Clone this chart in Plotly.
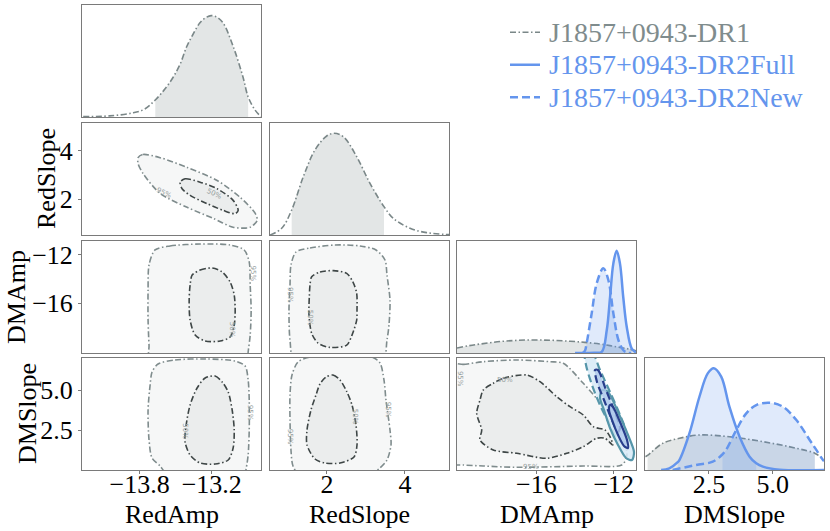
import plotly.graph_objects as go

# ---------------- data ----------------
params = ["RedAmp", "RedSlope", "DMAmp", "DMSlope"]
param_ranges = {"RedAmp": [-14.28, -12.79], "RedSlope": [0.54, 5.13],
                "DMAmp": [-20.1, -10.85], "DMSlope": [0.0, 7.0]}
tick_vals = {"RedAmp": [-13.8, -13.2], "RedSlope": [2, 4],
             "DMAmp": [-16, -12], "DMSlope": [2.5, 5.0]}
tick_text = {"RedAmp": ["\u221213.8", "\u221213.2"], "RedSlope": ["2", "4"],
             "DMAmp": ["\u221216", "\u221212"], "DMSlope": ["2.5", "5.0"]}

# 1-D marginal densities (height relative to panel)
redamp_dr1_x = [-14.27, -14.05, -13.86, -13.76, -13.67, -13.59, -13.52, -13.46, -13.41, -13.36,
                -13.30, -13.26, -13.205, -13.155, -13.105, -13.02, -12.94, -12.897, -12.84, -12.79]
redamp_dr1_h = [0.003, 0.01, 0.036, 0.07, 0.152, 0.25, 0.357, 0.48, 0.625, 0.73,
                0.839, 0.88, 0.905, 0.89, 0.839, 0.625, 0.357, 0.18, 0.063, 0.003]
redamp_dr1_ci = [-13.67, -12.897]

redslope_dr1_x = [0.54, 0.84, 1.096, 1.394, 1.694, 1.994, 2.181, 2.42, 2.763, 3.104, 3.463,
                  3.702, 4.13, 4.558, 5.13]
redslope_dr1_h = [0.0, 0.06, 0.223, 0.52, 0.759, 0.884, 0.908, 0.878, 0.699, 0.461, 0.253,
                  0.149, 0.06, 0.021, 0.003]
redslope_dr1_ci = [1.096, 3.463]

dmamp_dr1_x = [-20.1, -19.5, -18.91, -17.7, -16.5, -15.3, -14.26, -13.5, -12.71, -12.2, -11.68, -11.2, -10.85]
dmamp_dr1_h = [0.045, 0.065, 0.08, 0.105, 0.116, 0.114, 0.105, 0.095, 0.08, 0.066, 0.05, 0.035, 0.02]
dmamp_dr1_ci = [-20.1, -10.85]
dmamp_full_x = [-14.0, -13.0, -12.62, -12.36, -12.19, -12.02, -11.85, -11.68, -11.51, -11.33, -11.07, -10.85]
dmamp_full_h = [0.0, 0.002, 0.01, 0.205, 0.50, 0.80, 0.913, 0.80, 0.50, 0.235, 0.04, 0.005]
dmamp_full_ci = [-12.62, -11.07]
dmamp_new_x = [-13.60, -13.49, -13.40, -13.14, -12.88, -12.54, -12.28, -12.02, -11.76, -11.51, -11.33, -11.1]
dmamp_new_h = [0.0, 0.02, 0.087, 0.354, 0.622, 0.756, 0.652, 0.354, 0.116, 0.027, 0.005, 0.0]
dmamp_new_ci = [-13.49, -11.33]

dmslope_dr1_x = [0.02, 0.1, 0.69, 1.345, 2.13, 3.30, 4.61, 5.92, 6.64, 6.94, 7.0]
dmslope_dr1_h = [0.119, 0.13, 0.238, 0.283, 0.3125, 0.297, 0.253, 0.194, 0.15, 0.104, 0.10]
dmslope_dr1_ci = [0.1, 6.64]
dmslope_full_x = [0.63, 0.95, 1.28, 1.345, 1.737, 2.129, 2.454, 2.69, 2.98, 3.30, 3.70, 4.09, 4.35, 4.61, 5.26, 7.0]
dmslope_full_h = [0.0, 0.015, 0.07, 0.089, 0.327, 0.654, 0.863, 0.908, 0.833, 0.565, 0.297, 0.119, 0.06, 0.03, 0.003, 0.0]
dmslope_full_ci = [1.28, 4.35]
dmslope_new_x = [1.08, 2.0, 2.65, 3.03, 3.17, 3.57, 3.96, 4.35, 4.87, 5.39, 5.92, 6.44, 6.64, 6.96, 7.0]
dmslope_new_h = [0.0, 0.045, 0.074, 0.14, 0.179, 0.357, 0.506, 0.58, 0.601, 0.565, 0.446, 0.268, 0.2, 0.089, 0.08]
dmslope_new_ci = [3.03, 6.64]

# 2-D credible contours (polygons)
c_redslope_redamp_95_x = [-13.813, -13.772, -13.63, -13.405, -13.155, -12.963, -12.838, -12.822, -12.88,
                          -13.022, -13.188, -13.405, -13.63, -13.772, -13.813]
c_redslope_redamp_95_y = [3.71, 3.84, 3.71, 3.31, 2.775, 2.08, 1.428, 1.14, 0.857,
                          0.857, 1.224, 1.673, 2.244, 3.06, 3.469]
c_redslope_redamp_50_x = [-13.463, -13.422, -13.297, -13.155, -13.022, -12.98, -13.005, -13.105, -13.238, -13.38, -13.447]
c_redslope_redamp_50_y = [2.706, 2.844, 2.706, 2.436, 1.959, 1.55, 1.416, 1.55, 1.824, 2.163, 2.436]

c_dmamp_redamp_95_x = [-13.672, -13.547, -13.297, -13.047, -12.93, -12.888, -12.88, -12.872, -12.88, -12.897,
                       -12.905, -13.713, -13.722, -13.73, -13.73, -13.722]
c_dmamp_redamp_95_y = [-11.59, -11.26, -11.10, -11.18, -11.59, -12.59, -14.49, -16.55, -18.62, -20.02,
                       -20.85, -20.85, -19.45, -17.38, -14.90, -12.83]
c_dmamp_redamp_50_x = [-13.363, -13.297, -13.197, -13.113, -13.047, -13.013, -13.005, -13.013, -13.047, -13.13,
                       -13.255, -13.338, -13.38, -13.388, -13.38]
c_dmamp_redamp_50_y = [-13.66, -13.25, -13.08, -13.41, -14.24, -15.31, -16.72, -17.79, -18.78, -19.11,
                       -19.11, -18.62, -17.38, -15.73, -14.49]

c_dmamp_redslope_95_x = [1.207, 1.566, 2.207, 2.848, 3.258, 3.489, 3.54, 3.617, 3.591, 3.54, 3.412,
                         1.181, 1.053, 1.027, 1.053, 1.078]
c_dmamp_redslope_95_y = [-11.76, -11.43, -11.18, -11.26, -11.59, -12.42, -13.66, -15.73, -17.79, -19.03, -20.85,
                         -20.85, -19.03, -16.55, -14.49, -12.83]
c_dmamp_redslope_50_x = [1.609, 1.822, 2.163, 2.507, 2.668, 2.763, 2.771, 2.763, 2.643, 2.507, 2.079,
                         1.771, 1.609, 1.540, 1.548, 1.566]
c_dmamp_redslope_50_y = [-13.80, -13.41, -13.30, -13.52, -14.24, -15.17, -16.55, -17.38, -18.62, -19.45, -19.64,
                         -19.28, -18.48, -16.97, -15.45, -14.49]

c_dmslope_redamp_95_x = [-13.647, -13.505, -13.255, -13.005, -12.922, -12.897, -12.888, -12.888, -12.897, -12.913,
                         -12.93, -13.563, -13.63, -13.697, -13.722, -13.73, -13.713, -13.697]
c_dmslope_redamp_95_y = [6.625, 6.875, 6.94, 6.81, 6.5, 5.625, 4.375, 2.5, 0.9375, 0.125,
                         -0.3125, -0.3125, 0.25, 0.75, 1.875, 3.75, 5.3125, 6.125]
c_dmslope_redamp_50_x = [-13.255, -13.172, -13.113, -13.063, -13.03, -13.013, -13.022, -13.063, -13.172,
                         -13.297, -13.38, -13.422, -13.413, -13.38, -13.322]
c_dmslope_redamp_50_y = [5.75, 5.875, 5.5, 4.875, 3.75, 2.5, 1.375, 0.625, 0.375,
                         0.4375, 0.9375, 1.75, 2.8125, 4.0625, 5.125]

c_dmslope_redslope_95_x = [1.258, 1.566, 2.335, 3.155, 3.36, 3.463, 3.514, 3.617, 3.643, 3.54, 3.36, 3.104,
                           1.309, 1.13, 1.078, 1.053, 1.053, 1.104]
c_dmslope_redslope_95_y = [6.75, 7.06, 7.19, 7.06, 6.69, 5.625, 4.375, 2.5, 1.5625, 0.625, 0.125, -0.3125,
                           -0.3125, 0.25, 1.25, 3.125, 4.6875, 5.9375]
c_dmslope_redslope_50_x = [1.976, 2.155, 2.335, 2.514, 2.643, 2.745, 2.771, 2.694, 2.335, 1.95, 1.694,
                           1.489, 1.489, 1.591, 1.719, 1.822]
c_dmslope_redslope_50_y = [5.8125, 5.9375, 5.625, 4.875, 4.0625, 2.8125, 1.5625, 0.8125, 0.4375, 0.4375, 0.6875,
                           1.5625, 2.5, 3.75, 4.6875, 5.375]

c_dmslope_dmamp_dr1_95_x = [-20.3, -19.774, -18.741, -17.015, -15.294, -14.606, -13.573, -12.539, -11.847, -11.418,
                            -11.33, -11.588, -13.573, -17.015, -18.741, -19.774, -20.3]
c_dmslope_dmamp_dr1_95_y = [6.6, 6.6, 6.769, 6.875, 6.769, 6.669, 5.419, 3.956, 2.706, 1.669,
                            0.831, 0.3125, 0.25, 0.169, 0.25, 0.3125, 0.4]
c_dmslope_dmamp_dr1_50_x = [-18.224, -17.707, -16.498, -15.81, -14.948, -14.26, -13.573, -13.056, -12.451, -12.193,
                            -12.053, -12.451, -12.88, -13.573, -14.43, -15.464, -17.015, -18.224, -18.911, -18.824,
                            -19.082, -18.911, -18.741]
c_dmslope_dmamp_dr1_50_y = [5.419, 5.731, 5.9375, 5.519, 4.581, 3.956, 3.4375, 2.706, 2.5, 2.081,
                            1.5625, 1.981, 1.981, 1.456, 1.044, 0.731, 1.044, 1.25, 1.875, 2.5,
                            3.544, 4.375, 5.0]
c_dmslope_dmamp_new_95_x = [-13.485, -13.123, -12.71, -12.193, -11.676, -11.366, -11.469, -11.779, -12.193, -12.71, -13.123, -13.433]
c_dmslope_dmamp_new_95_y = [7.375, 7.375, 6.25, 4.875, 3.4375, 2.375, 1.75, 1.875, 2.8125, 4.0625, 5.3125, 6.5625]
c_dmslope_dmamp_new_50_x = [-12.968, -12.813, -12.4, -11.986, -11.676, -11.779, -12.09, -12.503, -12.865]
c_dmslope_dmamp_new_50_y = [6.25, 6.25, 5.0, 3.75, 2.625, 2.375, 3.125, 4.375, 5.5]
c_dmslope_dmamp_full_95_x = [-12.606, -12.296, -11.779, -11.263, -10.953, -11.056, -11.366, -11.779, -12.193, -12.503, -12.71]
c_dmslope_dmamp_full_95_y = [5.0, 4.875, 3.625, 2.1875, 1.125, 0.625, 0.75, 1.5625, 2.625, 3.75, 4.5]
c_dmslope_dmamp_full_50_x = [-12.193, -12.038, -11.676, -11.314, -11.263, -11.469, -11.779, -12.09, -12.245]
c_dmslope_dmamp_full_50_y = [4.0625, 3.9375, 3.0, 1.875, 1.375, 1.5, 2.1875, 3.125, 3.75]

legend_names = ["J1857+0943-DR1", "J1857+0943-DR2Full", "J1857+0943-DR2New"]
legend_rows = [1, 2, 3]

# ---------------- styling / layout ----------------
W, H = 830, 531
col_px = [(82, 261), (270, 449), (457, 636), (645, 824)]
row_px = [(5, 117), (123, 235), (241, 353), (358, 470)]
FONT = "Liberation Serif"
FS = 26
GRAY_LINE = "rgb(122,135,136)"
GRAY_TEXT = "rgb(127,140,141)"
BLUE = "rgb(100,149,237)"
GRAY_FILL = "rgba(127,140,141,0.22)"
BLUE_FILL = "rgba(100,149,237,0.2)"
C95_LINE = "rgb(127,140,141)"
C50_LINE = "rgb(62,70,70)"
C95_FILL = "rgb(246,247,247)"
C50_FILL = "rgb(235,237,237)"
N95_LINE = "rgb(86,150,170)"
N50_LINE = "rgb(40,62,140)"
N95_FILL = "rgba(215,234,247,0.85)"
N50_FILL = "rgba(175,200,235,0.8)"
DASHDOT = "6px,2.5px,1.5px,2.5px"
DASH = "8px,4px"


def fx(px):
    return px / W


def fy(py):
    return 1 - py / H


fig = go.Figure()
layout = {}
panel_axes = {}
k = 0
for r in range(4):
    for c in range(r + 1):
        k += 1
        panel_axes[(r, c)] = k
        sfx = "" if k == 1 else str(k)
        x0, x1 = col_px[c]
        y0, y1 = row_px[r]
        pc = params[c]
        pr = params[r]
        bottom = (r == 3)
        left = (c == 0 and r > 0)
        layout["xaxis" + sfx] = dict(
            domain=[fx(x0), fx(x1)], anchor="y" + sfx, range=param_ranges[pc],
            showline=True, mirror=True, linecolor="#7a7a7a", linewidth=1,
            showgrid=False, zeroline=False,
            tickvals=tick_vals[pc] if bottom else [], ticktext=tick_text[pc] if bottom else [],
            ticks="outside" if bottom else "", ticklen=3, tickcolor="#7a7a7a",
            ticklabelstandoff=-12,
            showticklabels=bottom, tickfont=dict(family=FONT, size=FS, color="black"))
        if r == c:
            yr = [0, 1.0]
            ytv, ytt = [], []
        else:
            yr = param_ranges[pr]
            ytv, ytt = (tick_vals[pr], tick_text[pr]) if left else ([], [])
        layout["yaxis" + sfx] = dict(
            domain=[fy(y1), fy(y0)], anchor="x" + sfx, range=yr,
            showline=True, mirror=True, linecolor="#7a7a7a", linewidth=1,
            showgrid=False, zeroline=False,
            tickvals=ytv, ticktext=ytt, ticks="outside" if (left and r != c) else "",
            ticklen=3, tickcolor="#7a7a7a",
            showticklabels=(left and r != c), tickfont=dict(family=FONT, size=FS, color="black"))

# legend axis (hidden)
layout["xaxis11"] = dict(domain=[fx(510), fx(540)], anchor="y11", range=[0, 1], visible=False)
layout["yaxis11"] = dict(domain=[fy(113.5), fy(16)], anchor="x11", range=[3.5, 0.5], visible=False)


def ax(r, c):
    kk = panel_axes[(r, c)]
    return ("x" if kk == 1 else "x%d" % kk), ("y" if kk == 1 else "y%d" % kk)


def add_marginal(r, xs, hs, ci, color, fill, dash, width):
    xa, ya = ax(r, r)
    sx = [x for x in xs if ci[0] - 1e-9 <= x <= ci[1] + 1e-9]
    sh = [h for x, h in zip(xs, hs) if ci[0] - 1e-9 <= x <= ci[1] + 1e-9]
    fig.add_trace(go.Scatter(x=sx, y=sh, xaxis=xa, yaxis=ya, mode="lines", line=dict(width=0, shape="spline"),
                             fill="tozeroy", fillcolor=fill, showlegend=False, hoverinfo="skip"))
    fig.add_trace(go.Scatter(x=xs, y=hs, xaxis=xa, yaxis=ya, mode="lines",
                             line=dict(color=color, width=width, dash=dash, shape="spline", smoothing=1.0),
                             showlegend=False))


def add_contour(r, c, xs, ys, line, fill, dash, width):
    xa, ya = ax(r, c)
    fig.add_trace(go.Scatter(x=list(xs) + [xs[0]], y=list(ys) + [ys[0]], xaxis=xa, yaxis=ya, mode="lines",
                             fill="toself", fillcolor=fill,
                             line=dict(color=line, width=width, dash=dash, shape="spline", smoothing=0.8),
                             showlegend=False, hoverinfo="skip"))


# diagonals
add_marginal(0, redamp_dr1_x, redamp_dr1_h, redamp_dr1_ci, GRAY_LINE, GRAY_FILL, DASHDOT, 1.6)
add_marginal(1, redslope_dr1_x, redslope_dr1_h, redslope_dr1_ci, GRAY_LINE, GRAY_FILL, DASHDOT, 1.6)
add_marginal(2, dmamp_dr1_x, dmamp_dr1_h, dmamp_dr1_ci, GRAY_LINE, GRAY_FILL, DASHDOT, 1.6)
add_marginal(2, dmamp_full_x, dmamp_full_h, dmamp_full_ci, BLUE, BLUE_FILL, "solid", 2.5)
add_marginal(2, dmamp_new_x, dmamp_new_h, dmamp_new_ci, BLUE, BLUE_FILL, DASH, 2.5)
add_marginal(3, dmslope_dr1_x, dmslope_dr1_h, dmslope_dr1_ci, GRAY_LINE, GRAY_FILL, DASHDOT, 1.6)
add_marginal(3, dmslope_full_x, dmslope_full_h, dmslope_full_ci, BLUE, BLUE_FILL, "solid", 2.5)
add_marginal(3, dmslope_new_x, dmslope_new_h, dmslope_new_ci, BLUE, BLUE_FILL, DASH, 2.5)

# 2-D panels (DR1)
add_contour(1, 0, c_redslope_redamp_95_x, c_redslope_redamp_95_y, C95_LINE, C95_FILL, DASHDOT, 1.6)
add_contour(1, 0, c_redslope_redamp_50_x, c_redslope_redamp_50_y, C50_LINE, C50_FILL, DASHDOT, 1.6)
add_contour(2, 0, c_dmamp_redamp_95_x, c_dmamp_redamp_95_y, C95_LINE, C95_FILL, DASHDOT, 1.6)
add_contour(2, 0, c_dmamp_redamp_50_x, c_dmamp_redamp_50_y, C50_LINE, C50_FILL, DASHDOT, 1.6)
add_contour(2, 1, c_dmamp_redslope_95_x, c_dmamp_redslope_95_y, C95_LINE, C95_FILL, DASHDOT, 1.6)
add_contour(2, 1, c_dmamp_redslope_50_x, c_dmamp_redslope_50_y, C50_LINE, C50_FILL, DASHDOT, 1.6)
add_contour(3, 0, c_dmslope_redamp_95_x, c_dmslope_redamp_95_y, C95_LINE, C95_FILL, DASHDOT, 1.6)
add_contour(3, 0, c_dmslope_redamp_50_x, c_dmslope_redamp_50_y, C50_LINE, C50_FILL, DASHDOT, 1.6)
add_contour(3, 1, c_dmslope_redslope_95_x, c_dmslope_redslope_95_y, C95_LINE, C95_FILL, DASHDOT, 1.6)
add_contour(3, 1, c_dmslope_redslope_50_x, c_dmslope_redslope_50_y, C50_LINE, C50_FILL, DASHDOT, 1.6)
add_contour(3, 2, c_dmslope_dmamp_dr1_95_x, c_dmslope_dmamp_dr1_95_y, C95_LINE, C95_FILL, DASHDOT, 1.6)
add_contour(3, 2, c_dmslope_dmamp_dr1_50_x, c_dmslope_dmamp_dr1_50_y, C50_LINE, C50_FILL, DASHDOT, 1.6)
# DR2 contours
add_contour(3, 2, c_dmslope_dmamp_new_95_x, c_dmslope_dmamp_new_95_y, N95_LINE, N95_FILL, DASH, 2.2)
add_contour(3, 2, c_dmslope_dmamp_full_95_x, c_dmslope_dmamp_full_95_y, N95_LINE, N95_FILL, "solid", 2.2)
add_contour(3, 2, c_dmslope_dmamp_new_50_x, c_dmslope_dmamp_new_50_y, N50_LINE, N50_FILL, DASH, 2.2)
add_contour(3, 2, c_dmslope_dmamp_full_50_x, c_dmslope_dmamp_full_50_y, N50_LINE, N50_FILL, "solid", 2.2)

# legend samples
legend_styles = [(GRAY_LINE, DASHDOT, 1.6, GRAY_TEXT), (BLUE, "solid", 2.5, BLUE), (BLUE, DASH, 2.5, BLUE)]
annotations = []
for row, name, (lc, ld, lw, tc) in zip(legend_rows, legend_names, legend_styles):
    fig.add_trace(go.Scatter(x=[0, 1], y=[row, row], xaxis="x11", yaxis="y11", mode="lines",
                             line=dict(color=lc, width=lw, dash=ld), showlegend=False, hoverinfo="skip"))
    annotations.append(dict(x=fx(547), y=fy(16 + (row - 0.5) * 32.5), xref="paper", yref="paper",
                            text=name, showarrow=False, xanchor="left", yanchor="middle",
                            font=dict(family=FONT, size=28, color=tc)))

# contour level labels
level_labels = [
    (1, 0, -13.60, 2.25, "95%", 25), (1, 0, -13.18, 2.2, "50%", 25),
    (2, 0, -12.86, -13.5, "95%", 90), (2, 0, -13.03, -18.2, "50%", 90),
    (2, 1, 1.05, -15.3, "95%", 90), (2, 1, 1.57, -17.2, "50%", 90),
    (3, 0, -12.88, 3.56, "95%", 90), (3, 0, -13.42, 2.4, "50%", 90),
    (3, 1, 1.05, 2.08, "95%", 90), (3, 1, 2.72, 3.33, "50%", 90), (3, 1, 3.57, 3.75, "95%", 90),
    (3, 2, -17.6, 5.6, "50%", 0), (3, 2, -19.95, 5.7, "95%", 90), (3, 2, -16.3, 0.2, "95%", 0),
]
for (r, c, x, y, t, a) in level_labels:
    xa, ya = ax(r, c)
    annotations.append(dict(x=x, y=y, xref=xa, yref=ya, text=t, showarrow=False, textangle=a,
                            font=dict(family="DejaVu Sans", size=7, color="rgb(150,160,160)")))

# axis titles
for c in range(4):
    x0, x1 = col_px[c]
    annotations.append(dict(x=fx((x0 + x1) / 2), y=fy(514), xref="paper", yref="paper", text=params[c],
                            showarrow=False, font=dict(family=FONT, size=FS, color="black"),
                            xanchor="center", yanchor="middle"))
ytitle_x = {1: 47, 2: 16, 3: 27}
for r in range(1, 4):
    y0, y1 = row_px[r]
    annotations.append(dict(x=fx(ytitle_x[r]), y=fy((y0 + y1) / 2), xref="paper", yref="paper",
                            text=params[r], showarrow=False, textangle=-90,
                            font=dict(family=FONT, size=FS, color="black"),
                            xanchor="center", yanchor="middle"))

fig.update_layout(**layout)
fig.update_layout(
    width=W, height=H, margin=dict(l=0, r=0, t=0, b=0),
    paper_bgcolor="white", plot_bgcolor="white",
    annotations=annotations, showlegend=False,
    font=dict(family=FONT),
)
fig.write_html("out.html", config={"displayModeBar": False},
               post_script="document.body.style.margin='0';document.body.style.overflow='hidden';")
